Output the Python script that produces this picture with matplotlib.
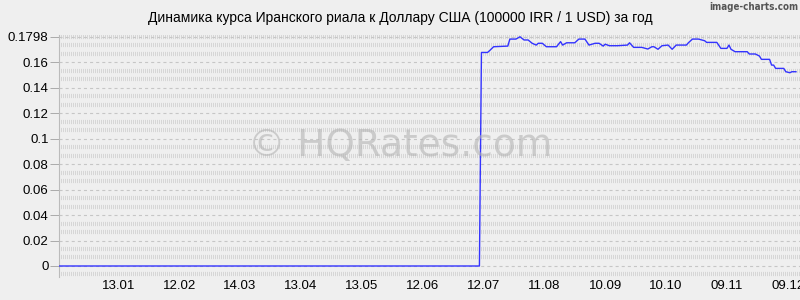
import matplotlib
matplotlib.use('Agg')
import matplotlib.pyplot as plt
import numpy as np
from datetime import datetime, timedelta

plt.rcParams['font.family'] = ['Liberation Sans', 'DejaVu Sans']
plt.rcParams['lines.scale_dashes'] = False

# ---- data ----
dates = ["2024-12-14", "2025-07-10", "2025-07-11", "2025-07-14", "2025-07-15", "2025-07-17",
         "2025-07-24", "2025-07-25", "2025-07-28", "2025-07-30", "2025-08-01", "2025-08-03",
         "2025-08-04", "2025-08-05", "2025-08-07", "2025-08-08", "2025-08-10", "2025-08-12",
         "2025-08-17", "2025-08-19", "2025-08-20", "2025-08-22", "2025-08-26", "2025-08-28",
         "2025-08-31", "2025-09-02", "2025-09-05", "2025-09-07", "2025-09-09", "2025-09-10",
         "2025-09-12", "2025-09-16", "2025-09-21", "2025-09-22", "2025-09-24", "2025-09-28",
         "2025-10-01", "2025-10-03", "2025-10-04", "2025-10-06", "2025-10-08", "2025-10-11",
         "2025-10-13", "2025-10-15", "2025-10-20", "2025-10-21", "2025-10-23", "2025-10-26",
         "2025-10-29", "2025-10-30", "2025-11-04", "2025-11-06", "2025-11-09", "2025-11-10",
         "2025-11-11", "2025-11-13", "2025-11-19", "2025-11-20", "2025-11-23", "2025-11-25",
         "2025-11-26", "2025-11-30", "2025-12-01", "2025-12-02", "2025-12-03", "2025-12-07",
         "2025-12-08", "2025-12-10", "2025-12-11", "2025-12-13"]
values = [0.0, 0.0, 0.1675, 0.1675, 0.1689, 0.1720,
          0.1725, 0.1780, 0.1780, 0.1798, 0.1773, 0.1773,
          0.1760, 0.1747, 0.1733, 0.1747, 0.1747, 0.1720,
          0.1720, 0.1760, 0.1733, 0.1751, 0.1751, 0.1780,
          0.1780, 0.1733, 0.1747, 0.1747, 0.1725, 0.1740,
          0.1728, 0.1728, 0.1733, 0.1751, 0.1715, 0.1715,
          0.1702, 0.1720, 0.1720, 0.1700, 0.1728, 0.1733,
          0.1700, 0.1733, 0.1733, 0.1751, 0.1780, 0.1780,
          0.1767, 0.1754, 0.1754, 0.1707, 0.1707, 0.1733,
          0.1700, 0.1681, 0.1681, 0.1663, 0.1663, 0.1647,
          0.1621, 0.1621, 0.1576, 0.1576, 0.1550, 0.1550,
          0.1524, 0.1516, 0.1524, 0.1524]

xtick_dates = ["2025-01-13", "2025-02-12", "2025-03-14", "2025-04-13", "2025-05-13", "2025-06-12",
               "2025-07-12", "2025-08-11", "2025-09-10", "2025-10-10", "2025-11-09", "2025-12-09"]
xtick_labels = ["13.01", "12.02", "14.03", "13.04", "13.05", "12.06",
                "12.07", "11.08", "10.09", "10.10", "09.11", "09.12"]
ytick_values = [0, 0.02, 0.04, 0.06, 0.08, 0.1, 0.12, 0.14, 0.16, 0.1798]
ytick_labels = ["0", "0.02", "0.04", "0.06", "0.08", "0.1", "0.12", "0.14", "0.16", "0.1798"]

title = "Динамика курса Иранского риала к Доллару США (100000 IRR / 1 USD) за год"

# ---- figure ----
bg = '#efefef'
fig = plt.figure(figsize=(8, 3), dpi=100, facecolor=bg)
ax = fig.add_axes([59/800, 23/300, 741/800, 242/300])
ax.set_facecolor(bg)

x = [datetime.strptime(d, "%Y-%m-%d") for d in dates]
xt = [datetime.strptime(d, "%Y-%m-%d") for d in xtick_dates]

ref = datetime(2025, 1, 13)
ax.set_xlim(ref - timedelta(days=29.2), ref + timedelta(days=336.0))
ax.set_ylim(-0.00863, 0.1812)

# minor rows (textured)
step = 0.02 / 3
for k in range(-1, 28):
    if k % 3 == 0 and k < 27:
        continue
    ax.axhline(k * step, color='#d6d6d6', lw=3.0, dashes=(0.72, 0.72), zorder=0.5)
# major dashed grid
for v in ytick_values:
    ax.axhline(v, color='#c6c6c6', lw=0.8, dashes=(2.2, 2.2), zorder=0.6)

ax.plot(x, values, color='#3333ff', lw=1.0, zorder=3)

ax.set_xticks(xt)
ax.set_xticklabels(xtick_labels, fontsize=9.5)
ax.set_yticks(ytick_values)
ax.set_yticklabels(ytick_labels, fontsize=9.5)
ax.tick_params(axis='x', length=0, pad=2.5)
ax.tick_params(axis='y', length=6.5, width=0.7, color='#aaaaaa', pad=1)

for s in ['top', 'right', 'bottom']:
    ax.spines[s].set_visible(False)
ax.spines['left'].set_color('#bbbbbb')
ax.spines['left'].set_linewidth(0.8)

fig.text(0.5, 1 - 18/300, title, ha='center', va='center', fontsize=10)
fig.text(798/800, 1 - 7/300, "image-charts.com", ha='right', va='center', fontsize=7,
         fontweight='bold', fontstretch='condensed', family='DejaVu Sans', color='#555555')
fig.text(400/800, 1 - 146/300, "© HQRates.com", ha='center', va='center', fontsize=27,
         family='DejaVu Sans', color='#b4b4b4', alpha=0.6, zorder=1)

fig.savefig('out.png', dpi=100, facecolor=bg)
